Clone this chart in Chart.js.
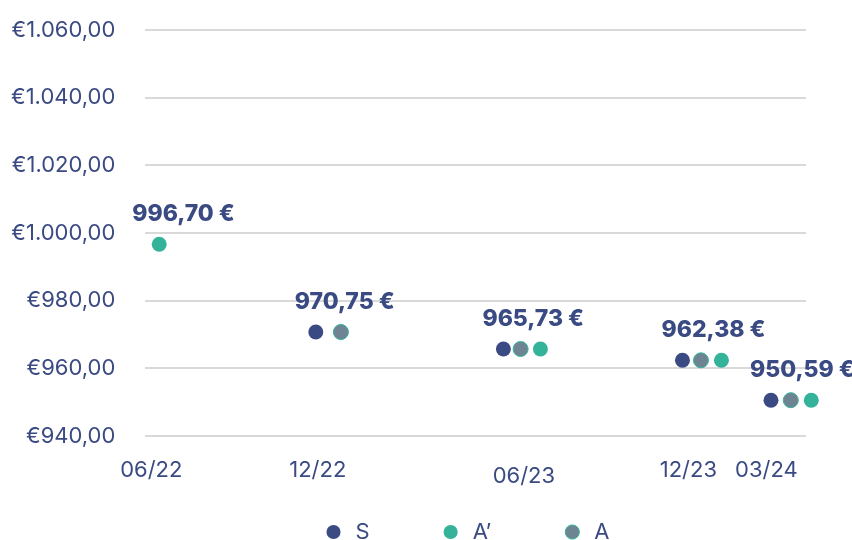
<!DOCTYPE html>
<html>
<head>
<meta charset="utf-8">
<script src="https://cdn.jsdelivr.net/npm/chart.js@4"></script>
<style>
  html, body { margin: 0; padding: 0; background: #fff; overflow: hidden; }
  #wrap { width: 852px; height: 540px; }
</style>
</head>
<body>
<div id="wrap"><canvas id="chart"></canvas></div>
<script>
// periods shown under the axis and where they sit on the x scale (0-100 units)
const periods = ['06/22', '12/22', '06/23', '12/23', '03/24'];
const periodPos = [0.9, 26.1, 57.3, 82.2, 94.0];

// price per period (same value for every series in a period)
const prices = [996.70, 970.75, 965.73, 962.38, 950.59];

// x position of each series inside a period (null = not shown)
const sX = [null, 25.8, 54.2, 81.3, 94.7];
const aPrimeX = [2.1, 29.6, 59.8, 87.2, 100.8];
const aX = [null, 29.6, 56.8, 84.1, 97.7];

const yTicks = [940, 960, 980, 1000, 1020, 1040, 1060];

const navy = '#3a4a82';
const teal = '#35b39a';
const grey = '#6f8493';
const fontFamily = 'Inter';

function fmtEuro(v) {
    const parts = v.toFixed(2).split('.');
    const int = parts[0].replace(/\B(?=(\d{3})+(?!\d))/g, '.');
    return int + ',' + parts[1];
}

function toPoints(xs) {
    const out = [];
    xs.forEach((x, i) => { if (x !== null) out.push({ x: x, y: prices[i] }); });
    return out;
}

// draws "996,70 €" above each period's group of points
const priceLabels = {
    id: 'priceLabels',
    afterDatasetsDraw(chart) {
        const { ctx, scales } = chart;
        ctx.save();
        ctx.font = '800 23px ' + fontFamily;
        ctx.fillStyle = navy;
        ctx.textAlign = 'left';
        ctx.textBaseline = 'middle';
        prices.forEach((p, i) => {
            const firstX = [sX[i], aX[i], aPrimeX[i]].filter(v => v !== null);
            const px = scales.x.getPixelForValue(Math.min(...firstX));
            const py = scales.y.getPixelForValue(p);
            ctx.fillText(fmtEuro(p) + ' €', px - (sX[i] === null ? 27 : 21), py - 30);
        });
        ctx.restore();
    }
};

// legend padding is wide for the horizontal gaps; pull the row back up and right
const legendShift = {
    id: 'legendShift',
    afterLayout(chart) {
        const lg = chart.legend;
        if (!lg) return;
        lg.top -= 57;
        lg.bottom -= 57;
        lg.left += 66;
        lg.right += 66;
    }
};

const ctx = document.querySelector('#chart').getContext('2d');
new Chart(ctx, {
    type: 'scatter',
    data: {
        datasets: [
            { label: 'S', data: toPoints(sX), backgroundColor: navy, borderColor: navy, borderWidth: 0, pointRadius: 7.5, order: 2 },
            { label: 'A’', data: toPoints(aPrimeX), backgroundColor: teal, borderColor: teal, borderWidth: 0, pointRadius: 7.5, order: 1 },
            { label: 'A', data: toPoints(aX), backgroundColor: grey, borderColor: teal, borderWidth: 1, pointRadius: 7.5, order: 0 }
        ]
    },
    options: {
        responsive: true,
        maintainAspectRatio: false,
        animation: false,
        clip: false,
        layout: { padding: { top: 0, right: 46, left: -6, bottom: -70 } },
        plugins: {
            tooltip: { enabled: false },
            legend: {
                position: 'bottom',
                labels: {
                    usePointStyle: true,
                    pointStyle: 'circle',
                    boxWidth: 22,
                    boxHeight: 10,
                    padding: 70,
                    color: navy,
                    font: { family: fontFamily, size: 22 },
                    sort: (a, b) => a.datasetIndex - b.datasetIndex
                }
            }
        },
        scales: {
            x: {
                type: 'linear',
                min: 0,
                max: 100,
                grid: { display: false },
                border: { display: false },
                afterBuildTicks: axis => { axis.ticks = periodPos.map(v => ({ value: v })); },
                ticks: {
                    autoSkip: false,
                    maxRotation: 0,
                    padding: 13,
                    color: navy,
                    font: c => ({ family: fontFamily, size: 22, lineHeight: c.index === 2 ? '38px' : '26px' }),
                    callback: (v, i) => periods[i]
                }
            },
            y: {
                min: 940,
                max: 1060,
                grid: { color: '#d9d9d9', lineWidth: 2, drawTicks: true, tickLength: 13, tickColor: 'rgba(0,0,0,0)' },
                border: { display: false },
                afterBuildTicks: axis => { axis.ticks = yTicks.map(v => ({ value: v })); },
                ticks: {
                    padding: 17,
                    color: navy,
                    font: { family: fontFamily, size: 22 },
                    callback: v => '€' + fmtEuro(v)
                }
            }
        }
    },
    plugins: [priceLabels, legendShift]
});
</script>
</body>
</html>
